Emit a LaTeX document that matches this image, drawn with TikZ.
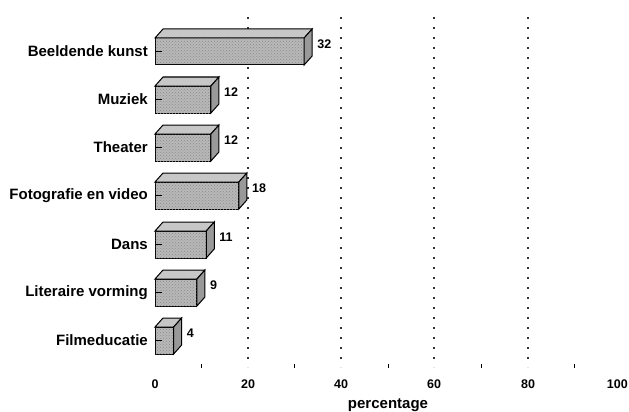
\documentclass[tikz,border=0pt]{standalone}
\usepackage{fontspec}
\setmainfont{Liberation Sans}
\usetikzlibrary{patterns}

% one 3D bar: #1 = top of front face, #2 = percentage
\newcommand{\balk}[2]{%
  \filldraw[voorkant] (155,#1) rectangle ({155+4.66*#2},#1+27); % front
  \fill[stippel] (155,#1) rectangle ({155+4.66*#2},#1+27);
  \filldraw[bovenkant] (155,#1) -- (163,#1-9) -- ({163+4.66*#2},#1-9) -- ({155+4.66*#2},#1) -- cycle; % top
  \filldraw[zijkant] ({155+4.66*#2},#1) -- ({163+4.66*#2},#1-9) -- ({163+4.66*#2},#1+18) -- ({155+4.66*#2},#1+27) -- cycle; % side
  \draw[line width=1pt] (155,#1+13.5) -- (162,#1+13.5); % axis tick
}

\tikzset{
  voorkant/.style={draw=black, line width=1pt, fill=black!28},
  stippel/.style={pattern=crosshatch dots, pattern color=black!45},
  bovenkant/.style={draw=black, line width=1pt, fill=black!22},
  zijkant/.style={draw=black, line width=1pt, fill=black!40},
  raster/.style={line width=1.8pt, dash pattern=on 1.8pt off 8.2pt, black!80},
  categorie/.style={anchor=east, inner sep=0pt, font=\bfseries\fontsize{15}{15}\selectfont},
  waarde/.style={anchor=west, inner sep=0pt, font=\bfseries\fontsize{12.5}{13}\selectfont},
  schaal/.style={inner sep=0pt, font=\bfseries\fontsize{12.5}{13}\selectfont}
}

\begin{document}
\begin{tikzpicture}[x=1pt, y=-1pt]

\useasboundingbox (0,0) rectangle (629,412); % page

% Grid lines
\draw[raster] (248,17) -- (248,367);
\draw[raster] (341,17) -- (341,367);
\draw[raster] (434,17) -- (434,367);
\draw[raster] (528,17) -- (528,367);

% Minor ticks
\draw[line width=0.9pt] (201.6,364) -- (201.6,368);
\draw[line width=0.9pt] (294.8,364) -- (294.8,368);
\draw[line width=0.9pt] (388,364) -- (388,368);
\draw[line width=0.9pt] (481.2,364) -- (481.2,368);
\draw[line width=0.9pt] (574.4,364) -- (574.4,368);

% Bars
\balk{38}{32}
\balk{86}{12}
\balk{134}{12}
\balk{182}{18}
\balk{231}{11}
\balk{279}{9}
\balk{327}{4}

% Category labels
\node[categorie] (kunst) at (148,51.5) {Beeldende kunst};
\node[categorie] (muziek) at (148,99.5) {Muziek};
\node[categorie] (theater) at (148,147.5) {Theater};
\node[categorie] (foto) at (148,195.5) {Fotografie en video};
\node[categorie] (dans) at (148,244.5) {Dans};
\node[categorie] (literair) at (148,292.5) {Literaire vorming};
\node[categorie] (film) at (148,340.5) {Filmeducatie};

% Values
\node[waarde] (kunstval) at ({168+4.66*32},44) {32};
\node[waarde] (muziekval) at ({168+4.66*12},92) {12};
\node[waarde] (theaterval) at ({168+4.66*12},140) {12};
\node[waarde] (fotoval) at ({168+4.66*18},188) {18};
\node[waarde] (dansval) at ({168+4.66*11},237) {11};
\node[waarde] (literairval) at ({168+4.66*9},285) {9};
\node[waarde] (filmval) at ({168+4.66*4},333) {4};

% Axis labels
\node[schaal] (t0) at (155,384) {0};
\node[schaal] (t20) at (248,384) {20};
\node[schaal] (t40) at (341,384) {40};
\node[schaal] (t60) at (434,384) {60};
\node[schaal] (t80) at (528,384) {80};
\node[schaal, anchor=east] (t100) at (628,384) {100};
\node[inner sep=0pt, font=\bfseries\fontsize{15}{15}\selectfont] (percentage) at (388,405) {percentage};

\end{tikzpicture}
\end{document}
